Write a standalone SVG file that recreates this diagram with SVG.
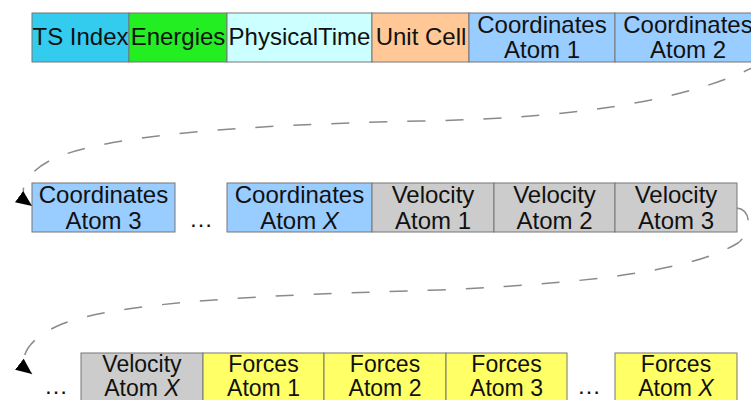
<svg xmlns="http://www.w3.org/2000/svg" width="751" height="400" viewBox="0 0 751 400">
  <style>
    .box { stroke: #777; stroke-width: 1; }
    .lbl { font-family: "Liberation Sans", Arial, sans-serif; font-size: 24px; fill: #111; text-anchor: middle; }
    .sm { font-size: 23px; }
    .ts { fill: #33CCEE; }
    .en { fill: #22EE22; }
    .pt { fill: #CCFFFF; }
    .uc { fill: #FFC896; }
    .co { fill: #99CCFF; }
    .ve { fill: #CCCCCC; }
    .fo { fill: #FFFF66; }
    .conn { fill: none; stroke: #8a8a8a; stroke-width: 1.5; stroke-dasharray: 18 20; }
  </style>
  <defs>
    <marker id="arrow" markerUnits="userSpaceOnUse" markerWidth="18" markerHeight="14" refX="16" refY="7" orient="auto">
      <path d="M0,0 L16,7 L0,14 z" fill="#000"/>
    </marker>
  </defs>
  <rect width="751" height="400" fill="#fff"/>

  <!-- Row 1 -->
  <g id="ts-index"><rect class="box ts" x="32" y="13" width="97" height="49"/><text class="lbl" x="80.5" y="45">TS Index</text></g>
  <g id="energies"><rect class="box en" x="129" y="13" width="98" height="49"/><text class="lbl" x="178" y="45">Energies</text></g>
  <g id="physical-time"><rect class="box pt" x="227" y="13" width="145" height="49"/><text class="lbl" x="299.5" y="45">PhysicalTime</text></g>
  <g id="unit-cell"><rect class="box uc" x="372" y="13" width="97" height="49"/><text class="lbl" x="421" y="45">Unit Cell</text></g>
  <g id="coord-1"><rect class="box co" x="469" y="13" width="146" height="49"/><text class="lbl" x="542" y="33">Coordinates</text><text class="lbl" x="542" y="58">Atom 1</text></g>
  <g id="coord-2"><rect class="box co" x="615" y="13" width="146" height="49"/><text class="lbl" x="688" y="33">Coordinates</text><text class="lbl" x="688" y="58">Atom 2</text></g>

  <!-- Row 2 -->
  <g id="coord-3"><rect class="box co" x="32" y="183" width="143" height="49"/><text class="lbl" x="103.5" y="203">Coordinates</text><text class="lbl" x="103.5" y="229">Atom 3</text></g>
  <g id="dots-1"><text class="lbl" x="201" y="227">…</text></g>
  <g id="coord-x"><rect class="box co" x="227" y="183" width="145" height="49"/><text class="lbl" x="299.5" y="203">Coordinates</text><text class="lbl" x="299.5" y="229">Atom <tspan font-style="italic">X</tspan></text></g>
  <g id="vel-1"><rect class="box ve" x="372" y="183" width="122" height="49"/><text class="lbl" x="433" y="203">Velocity</text><text class="lbl" x="433" y="229">Atom 1</text></g>
  <g id="vel-2"><rect class="box ve" x="494" y="183" width="121" height="49"/><text class="lbl" x="554.5" y="203">Velocity</text><text class="lbl" x="554.5" y="229">Atom 2</text></g>
  <g id="vel-3"><rect class="box ve" x="615" y="183" width="122" height="49"/><text class="lbl" x="676" y="203">Velocity</text><text class="lbl" x="676" y="229">Atom 3</text></g>

  <!-- Row 3 -->
  <g id="dots-2"><text class="lbl" x="56" y="394">…</text></g>
  <g id="vel-x"><rect class="box ve" x="81" y="353" width="122" height="50"/><text class="lbl sm" x="142" y="372">Velocity</text><text class="lbl sm" x="142" y="396">Atom <tspan font-style="italic">X</tspan></text></g>
  <g id="forces-1"><rect class="box fo" x="203" y="353" width="121" height="50"/><text class="lbl sm" x="263.5" y="372">Forces</text><text class="lbl sm" x="263.5" y="396">Atom 1</text></g>
  <g id="forces-2"><rect class="box fo" x="324" y="353" width="122" height="50"/><text class="lbl sm" x="385" y="372">Forces</text><text class="lbl sm" x="385" y="396">Atom 2</text></g>
  <g id="forces-3"><rect class="box fo" x="446" y="353" width="121" height="50"/><text class="lbl sm" x="506.5" y="372">Forces</text><text class="lbl sm" x="506.5" y="396">Atom 3</text></g>
  <g id="dots-3"><text class="lbl" x="589" y="394">…</text></g>
  <g id="forces-x"><rect class="box fo" x="615" y="353" width="122" height="50"/><text class="lbl sm" x="676" y="372">Forces</text><text class="lbl sm" x="676" y="396">Atom <tspan font-style="italic">X</tspan></text></g>

  <!-- Connectors -->
  <g id="connectors">
    <path class="conn" marker-end="url(#arrow)" d="M 760,64 C 700,95 600,118 420,121 C 240,125 110,135 55,158 C 25,172 14,193 32,206"/>
    <path class="conn" marker-end="url(#arrow)" d="M 737,208 C 752,210 752,232 738,243 C 700,266 620,282 440,290 C 260,295 120,302 62,324 C 28,338 14,360 32,374"/>
  </g>
</svg>
